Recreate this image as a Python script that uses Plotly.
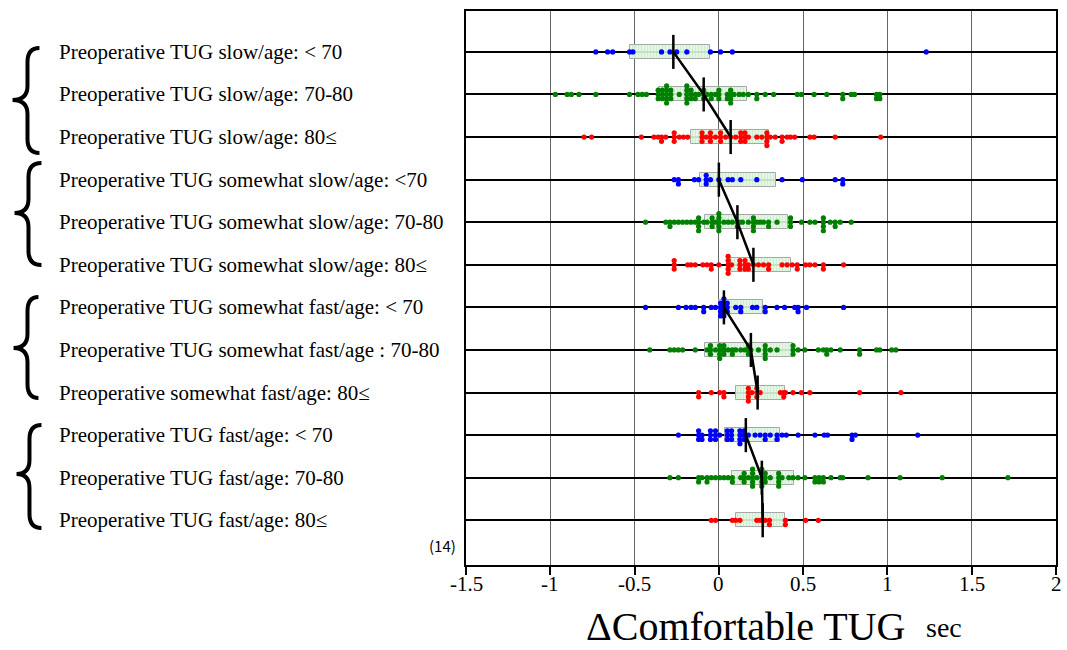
import plotly.graph_objects as go

# ---------------- data ----------------
labels = [
    "Preoperative TUG slow/age: < 70",
    "Preoperative TUG slow/age: 70-80",
    "Preoperative TUG slow/age: 80≤",
    "Preoperative TUG somewhat slow/age: <70",
    "Preoperative TUG somewhat slow/age: 70-80",
    "Preoperative TUG somewhat slow/age: 80≤",
    "Preoperative TUG somewhat fast/age: < 70",
    "Preoperative TUG somewhat fast/age : 70-80",
    "Preoperative somewhat fast/age: 80≤",
    "Preoperative TUG fast/age: < 70",
    "Preoperative TUG fast/age: 70-80",
    "Preoperative TUG fast/age: 80≤",
]
age_colors = ["#0000ff", "#008000", "#ff0000"]

vals_slow_lt70 = [-0.73, -0.66, -0.63, -0.53, -0.51, -0.34, -0.29, -0.25, -0.19, -0.05, 0.01, 0.08, 1.23]
vals_slow_7080 = [-0.97, -0.90, -0.875, -0.83, -0.73, -0.53, -0.48, -0.455, -0.43,
                  -0.36, -0.36, -0.36, -0.335, -0.335, -0.335, -0.31, -0.31, -0.31, -0.31, -0.31,
                  -0.285, -0.285, -0.285, -0.235, -0.19, -0.19, -0.19, -0.19, -0.19,
                  -0.165, -0.165, -0.165, -0.14, -0.14, -0.12, -0.09, -0.09, -0.09, -0.07,
                  -0.045, -0.045, -0.02, 0.0, 0.0, 0.0, 0.05, 0.05, 0.07, 0.07, 0.07, 0.07,
                  0.09, 0.12, 0.145, 0.175, 0.225, 0.225, 0.275, 0.325, 0.465, 0.49, 0.565,
                  0.64, 0.735, 0.735, 0.785, 0.805, 0.935, 0.935, 0.955, 0.955]
vals_slow_80 = [-0.80, -0.755, -0.46, -0.385, -0.36, -0.34, -0.34, -0.315, -0.265, -0.265, -0.265,
                -0.235, -0.21, -0.185, -0.10, -0.10, -0.10, -0.075, -0.05, -0.05, -0.05, -0.02,
                0.01, 0.01, 0.01, 0.04, 0.07, 0.10, 0.13, 0.13, 0.13, 0.155, 0.155, 0.155, 0.175,
                0.225, 0.255, 0.285, 0.285, 0.285, 0.285, 0.305, 0.335, 0.375, 0.375, 0.405,
                0.425, 0.45, 0.54, 0.565, 0.69, 0.96]
vals_sws_lt70 = [-0.265, -0.24, -0.24, -0.145, -0.12, -0.075, -0.075, -0.075, -0.05, 0.0, 0.055,
                 0.08, 0.13, 0.225, 0.375, 0.495, 0.69, 0.735, 0.735]
vals_sws_7080 = [-0.435, -0.315, -0.29, -0.29, -0.265, -0.24, -0.215, -0.19, -0.165, -0.14,
                 -0.12, -0.12, -0.12, -0.12, -0.09, -0.07, -0.04, -0.04, -0.04, -0.02,
                 0.0, 0.0, 0.0, 0.0, 0.0, 0.03, 0.055, 0.08, 0.11, 0.11, 0.12, 0.14, 0.175,
                 0.205, 0.205, 0.205, 0.205, 0.225, 0.245, 0.265, 0.295, 0.295, 0.345,
                 0.425, 0.425, 0.425, 0.49, 0.54, 0.57, 0.62, 0.62, 0.62, 0.62, 0.66,
                 0.69, 0.69, 0.72, 0.785]
vals_sws_80 = [-0.265, -0.265, -0.265, -0.185, -0.165, -0.14, -0.095, -0.07, -0.045, -0.045, 0.0,
               0.055, 0.055, 0.055, 0.055, 0.055, 0.075, 0.125, 0.125, 0.125, 0.155, 0.155, 0.155,
               0.175, 0.175, 0.205, 0.235, 0.265, 0.295, 0.295, 0.375, 0.405, 0.435, 0.465, 0.465,
               0.515, 0.54, 0.57, 0.62, 0.62, 0.74]
vals_swf_lt70 = [-0.435, -0.24, -0.195, -0.165, -0.14, -0.09, -0.09, -0.045, -0.02,
                 0.01, 0.01, 0.01, 0.01, 0.03, 0.03, 0.03, 0.03, 0.03, 0.05, 0.05, 0.05,
                 0.10, 0.13, 0.13, 0.2, 0.225, 0.275, 0.275, 0.345, 0.39, 0.45, 0.47, 0.47,
                 0.52, 0.74]
vals_swf_7080 = [-0.41, -0.29, -0.265, -0.24, -0.215, -0.14, -0.07, -0.05, -0.05, -0.05, -0.02,
                 0.005, 0.005, 0.005, 0.005, 0.03, 0.03, 0.03, 0.055, 0.08, 0.08, 0.10, 0.13,
                 0.155, 0.175, 0.175, 0.175, 0.19, 0.235, 0.275, 0.275, 0.275, 0.275, 0.305,
                 0.345, 0.44, 0.44, 0.44, 0.47, 0.51, 0.59, 0.62, 0.64, 0.64, 0.665, 0.72,
                 0.835, 0.835, 0.935, 0.955, 1.025, 1.05]
vals_swf_80 = [-0.12, -0.12, -0.045, 0.005, 0.03, 0.03, 0.175, 0.175, 0.175, 0.175, 0.195,
               0.225, 0.225, 0.225, 0.245, 0.365, 0.385, 0.385, 0.395, 0.44, 0.49, 0.54,
               0.835, 1.08]
vals_fast_lt70 = [-0.24, -0.12, -0.12, -0.12, -0.1, -0.1, -0.05, -0.05, -0.05, -0.02, -0.02, -0.02,
                  0.005, 0.05, 0.05, 0.05, 0.075, 0.075, 0.075, 0.125, 0.125, 0.125, 0.125,
                  0.15, 0.15, 0.15, 0.175, 0.215, 0.245, 0.275, 0.275, 0.305, 0.345, 0.345,
                  0.375, 0.4, 0.47, 0.57, 0.625, 0.645, 0.79, 0.79, 0.81, 1.18]
vals_fast_7080 = [-0.29, -0.24, -0.12, -0.12, -0.1, -0.07, -0.07, -0.045, -0.02, 0.005, 0.03,
                  0.055, 0.08, 0.08, 0.13, 0.15, 0.15, 0.15, 0.175, 0.2, 0.2, 0.2, 0.2, 0.2,
                  0.225, 0.255, 0.255, 0.255, 0.255, 0.255, 0.275, 0.275, 0.275, 0.305,
                  0.355, 0.355, 0.355, 0.355, 0.375, 0.415, 0.44, 0.47, 0.51, 0.57, 0.57,
                  0.595, 0.595, 0.62, 0.62, 0.665, 0.72, 0.735, 0.885, 1.075, 1.325, 1.715]
vals_fast_80 = [-0.045, -0.02, 0.08, 0.10, 0.125, 0.225, 0.245, 0.275, 0.3, 0.3, 0.395, 0.395,
                0.515, 0.59]

group_values = [vals_slow_lt70, vals_slow_7080, vals_slow_80,
                vals_sws_lt70, vals_sws_7080, vals_sws_80,
                vals_swf_lt70, vals_swf_7080, vals_swf_80,
                vals_fast_lt70, vals_fast_7080, vals_fast_80]

q1 = [-0.53, -0.355, -0.165, -0.11, -0.085, 0.07, 0.0, -0.08, 0.10, 0.035, 0.08, 0.10]
q3 = [-0.05, 0.165, 0.295, 0.34, 0.41, 0.43, 0.26, 0.44, 0.39, 0.365, 0.445, 0.395]
medians = [-0.27, -0.09, 0.07, 0.0, 0.11, 0.205, 0.03, 0.19, 0.23, 0.16, 0.255, 0.26]

x_ticks = [-1.5, -1, -0.5, 0, 0.5, 1, 1.5, 2]
x_tick_text = ["-1.5", "-1", "-0.5", "0", "0.5", "1", "1.5", "2"]

# ---------------- layout geometry ----------------
# The page body margin is removed (post_script), so figure coords = screen coords.
W, H = 1067, 650
L, R, T, B = 466, 1058, 11, 565
SERIF = "Liberation Serif, Times New Roman, serif"


def px_x(sx):
    """screen x -> paper x"""
    return (sx - L) / (R - L)


def px_y(sy):
    """screen y -> paper y"""
    return (B - sy) / (B - T)


rows = list(range(len(labels)))

fig = go.Figure()

# IQR boxes (hatched light green)
fig.add_trace(go.Bar(
    y=rows, x=[b - a for a, b in zip(q1, q3)], base=q1, orientation="h",
    width=0.33,
    marker=dict(color="rgba(226,246,226,0.9)",
                line=dict(color="#a8a8a8", width=1),
                pattern=dict(shape="|", fgcolor="#b6e3b6", size=3, solidity=0.3)),
    showlegend=False, hoverinfo="skip",
))

# dot plot with stacking of ties
offsets_order = [0, 1, -1, 2, -2, 3, -3]
step = 0.1
for r, vals in enumerate(group_values):
    counts = {}
    xs, ys = [], []
    for v in vals:
        k = round(v, 3)
        n = counts.get(k, 0)
        counts[k] = n + 1
        xs.append(v)
        ys.append(r + offsets_order[n % len(offsets_order)] * step)
    fig.add_trace(go.Scatter(
        x=xs, y=ys, mode="markers",
        marker=dict(color=age_colors[r % 3], size=5.2, line=dict(width=0)),
        showlegend=False, hoverinfo="skip",
    ))

# median ticks
mx, my = [], []
for r, m in enumerate(medians):
    mx += [m, m, None]
    my += [r - 0.4, r + 0.4, None]
fig.add_trace(go.Scatter(x=mx, y=my, mode="lines",
                         line=dict(color="black", width=2.5),
                         showlegend=False, hoverinfo="skip"))

# median connecting lines (within each TUG group)
lx, ly = [], []
for r, m in enumerate(medians):
    lx.append(m)
    ly.append(r)
    if r % 3 == 2:
        lx.append(None)
        ly.append(None)
fig.add_trace(go.Scatter(x=lx, y=ly, mode="lines",
                         line=dict(color="black", width=2.5),
                         showlegend=False, hoverinfo="skip"))

annotations = []
for r, lab in enumerate(labels):
    annotations.append(dict(
        x=px_x(56), xref="paper", y=r, yref="y", text=lab, showarrow=False,
        xanchor="left", yanchor="middle",
        font=dict(family=SERIF, size=21, color="black"),
    ))

# x tick labels
for v, t in zip(x_ticks, x_tick_text):
    annotations.append(dict(x=v, xref="x", y=px_y(584), yref="paper", text=t,
                            showarrow=False, xanchor="center", yanchor="middle",
                            font=dict(family=SERIF, size=21, color="black")))

annotations.append(dict(x=px_x(442), xref="paper", y=px_y(545), yref="paper",
                        text="(14)", showarrow=False, xanchor="center", yanchor="middle",
                        font=dict(family="Noto Sans CJK JP", size=15, color="black")))
annotations.append(dict(x=px_x(746), xref="paper", y=px_y(626), yref="paper",
                        text="ΔComfortable TUG", showarrow=False, xanchor="center",
                        yanchor="middle",
                        font=dict(family=SERIF, size=40, color="black")))
annotations.append(dict(x=px_x(946), xref="paper", y=px_y(627), yref="paper",
                        text="sec", showarrow=False, xanchor="center", yanchor="middle",
                        font=dict(family=SERIF, size=28, color="black")))

# curly braces grouping labels (decoration)
brace_specs = [(48, 100, 153, 38, 26, 11), (163, 213, 265, 40, 27, 13),
               (297, 348, 398, 37, 26, 12), (425, 474, 528, 40, 28, 15)]
shapes = []
for top, mid, bot, xt, xs_, xp in brace_specs:
    def P(x, y):
        return f"{px_x(x):.5f},{px_y(y):.5f}"
    path = (f"M {P(xt, top)} Q {P(xs_, top)} {P(xs_, top + 14)} "
            f"L {P(xs_, mid - 14)} Q {P(xs_, mid)} {P(xp, mid)} "
            f"Q {P(xs_, mid)} {P(xs_, mid + 14)} "
            f"L {P(xs_, bot - 14)} Q {P(xs_, bot)} {P(xt, bot)}")
    shapes.append(dict(type="path", xref="paper", yref="paper", path=path,
                       line=dict(color="black", width=4)))

fig.update_layout(
    width=W, height=H,
    margin=dict(l=L, r=W - R, t=T, b=H - B),
    paper_bgcolor="white", plot_bgcolor="white",
    bargap=0,
    xaxis=dict(range=[-1.5, 2], tickvals=x_ticks, showticklabels=False,
               showgrid=True, gridcolor="#666666", gridwidth=1.3,
               zeroline=False, showline=True, linecolor="black", linewidth=2,
               mirror=True, ticks="outside", ticklen=8, tickwidth=1.5,
               tickcolor="black"),
    yaxis=dict(range=[12.05, -0.96], tickvals=rows, showticklabels=False,
               showgrid=True, gridcolor="black", gridwidth=2,
               zeroline=False, showline=True, linecolor="black", linewidth=2,
               mirror=True, ticks=""),
    annotations=annotations,
    shapes=shapes,
    showlegend=False,
)

fig.write_html("out.html",
               config={"displayModeBar": False},
               post_script="document.body.style.margin='0';document.body.style.overflow='hidden';")
